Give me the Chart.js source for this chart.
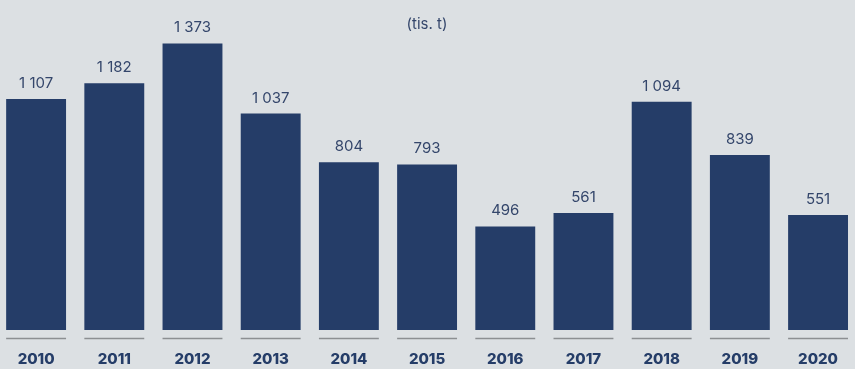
<!DOCTYPE html>
<html>
<head>
<meta charset="utf-8">
<script src="https://cdn.jsdelivr.net/npm/chart.js@4/dist/chart.umd.min.js"></script>
<style>
html,body{margin:0;padding:0;background:#dce0e3;overflow:hidden;}
#wrap{position:absolute;left:-3px;top:0;width:861px;height:369px;}
</style>
</head>
<body>
<div id="wrap"><canvas id="c"></canvas></div>
<script>
const categories = ['2010','2011','2012','2013','2014','2015','2016','2017','2018','2019','2020'];
const values = [1107, 1182, 1373, 1037, 804, 793, 496, 561, 1094, 839, 551];
const unitLabel = '(tis. t)';

const navy = '#253d68';
const textColor = '#34466b';

function fmt(v){
  const s = String(v);
  return s.length > 3 ? s.slice(0, s.length-3) + ' ' + s.slice(-3) : s;
}

const extras = {
  id: 'extras',
  afterDatasetsDraw(chart){
    const ctx = chart.ctx;
    const meta = chart.getDatasetMeta(0);
    const yZero = chart.scales.y.getPixelForValue(0);
    ctx.save();
    meta.data.forEach((bar, i) => {
      const w = bar.width;
      ctx.strokeStyle = '#8c8f92';
      ctx.lineWidth = 1.3;
      ctx.beginPath();
      ctx.moveTo(bar.x - w/2, yZero + 8.5);
      ctx.lineTo(bar.x + w/2, yZero + 8.5);
      ctx.stroke();
      ctx.fillStyle = textColor;
      ctx.font = '15px Inter, "Open Sans", sans-serif';
      ctx.textAlign = 'center';
      ctx.textBaseline = 'alphabetic';
      ctx.fillText(fmt(values[i]), bar.x, bar.y - 11);
    });
    ctx.font = '15px Inter, "Open Sans", sans-serif';
    ctx.textAlign = 'center';
    ctx.fillStyle = textColor;
    ctx.fillText(unitLabel, 430, 29);
    ctx.restore();
  }
};

new Chart(document.getElementById('c'), {
  type: 'bar',
  data: {
    labels: categories,
    datasets: [{
      data: values,
      backgroundColor: navy,
      borderWidth: 0,
      barPercentage: 0.766,
      categoryPercentage: 1.0
    }]
  },
  options: {
    responsive: true,
    maintainAspectRatio: false,
    animation: false,
    layout: { padding: 0 },
    plugins: { legend: { display: false }, tooltip: { enabled: false } },
    scales: {
      x: {
        grid: { display: false, drawTicks: false },
        border: { display: false },
        ticks: {
          color: navy,
          font: { family: 'Inter, "Open Sans", sans-serif', size: 15, weight: '800' },
          padding: 20,
          maxRotation: 0
        },
        afterFit(scale){ scale.height = 39; }
      },
      y: {
        display: false,
        min: 0,
        max: 1581
      }
    }
  },
  plugins: [extras]
});
</script>
</body>
</html>
